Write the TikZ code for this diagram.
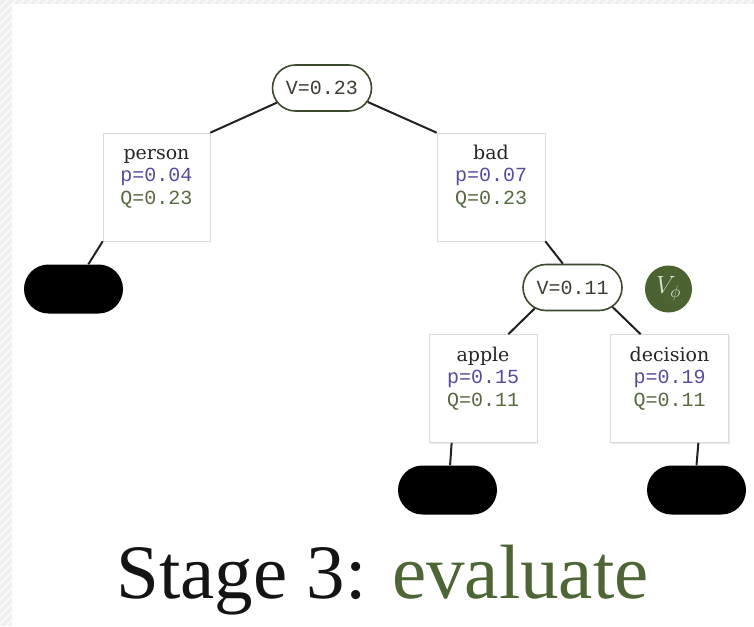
\documentclass[tikz,border=0pt]{standalone}
\usepackage{fontspec}
\usetikzlibrary{shapes.misc,shadows}
\newfontfamily\wordfont{DejaVu Serif}
\newfontfamily\valfont{Liberation Mono}
\newfontfamily\titlefont{Liberation Serif}

\definecolor{framegray}{HTML}{EEEEEE}
\definecolor{ovalline}{HTML}{3B4A2B}
\definecolor{vtext}{HTML}{3A3F33}
\definecolor{pcol}{HTML}{5A4A9E}
\definecolor{qcol}{HTML}{56693F}
\definecolor{phifill}{HTML}{4B6331}
\definecolor{phitext}{HTML}{DCE0D2}
\definecolor{titlegreen}{HTML}{4E6536}
\definecolor{edgecol}{HTML}{222222}
\definecolor{boxline}{HTML}{DADADA}

\tikzset{
  valnode/.style={rounded rectangle, draw=ovalline, line width=1.6pt, fill=white,
    minimum width=99pt, minimum height=46pt, inner sep=0pt,
    font=\valfont\fontsize{20}{20}\selectfont, text=vtext},
  leaf/.style={rounded rectangle, fill=black, minimum width=99pt,
    minimum height=49pt, inner sep=0pt},
  tokbox/.style={rectangle, draw=boxline, line width=0.6pt, fill=white,
    minimum height=108pt, inner sep=0pt,
    drop shadow={opacity=0.14, shadow xshift=1.2pt, shadow yshift=-1.2pt}},
  edge/.style={draw=edgecol, line width=2pt},
  wordline/.style={anchor=base, inner sep=0pt,
    font=\wordfont\fontsize{19}{19}\selectfont, text=black!85},
  pline/.style={anchor=base, inner sep=0pt,
    font=\valfont\fontsize{20}{20}\selectfont, text=pcol},
  qline/.style={anchor=base, inner sep=0pt,
    font=\valfont\fontsize{20}{20}\selectfont, text=qcol},
}

% three text lines inside a token box: word, prior p, value Q
\newcommand\tokenlines[4]{%
  \node[wordline] (#1-w) at ([yshift=-27pt]#1.north) {#2};
  \node[pline] (#1-p) at ([yshift=-49pt]#1.north) {p=#3};
  \node[qline] (#1-q) at ([yshift=-72pt]#1.north) {Q=#4};
}

\begin{document}
\begin{tikzpicture}[x=1pt,y=-1pt]
\useasboundingbox (0,0) rectangle (754,626);

% page frame: striped gray margin on the left and top
\fill[framegray] (0,0) rectangle (754,626);
\begin{scope}
  \clip (0,0) rectangle (754,626);
  \foreach \k in {0,8,...,1400} {
    \draw[white, line width=2pt, opacity=0.7] (\k-640,640) -- (\k,0);
  }
\end{scope}
\fill[white] (12,4) rectangle (754,626);

% tree nodes
\node[valnode] (root) at (322,88) {V=0.23};
\node[tokbox, minimum width=107pt] (person) at (156.5,187) {};
\node[tokbox, minimum width=108pt] (bad) at (491,187) {};
\node[leaf] (leafA) at (73.5,289) {};
\node[valnode] (vb) at (572.5,287.5) {V=0.11};
\node[circle, fill=phifill, minimum size=47pt, inner sep=0pt,
      text=phitext, font=\fontsize{24}{24}\selectfont] (vphi) at (668.5,289) {$V_\phi$};
\node[tokbox, minimum width=108pt] (apple) at (483,388.5) {};
\node[tokbox, minimum width=118pt] (decision) at (669.5,388.5) {};
\node[leaf] (leafB) at (447.5,490) {};
\node[leaf] (leafC) at (696.5,490) {};

\tokenlines{person}{person}{0.04}{0.23}
\tokenlines{bad}{bad}{0.07}{0.23}
\tokenlines{apple}{apple}{0.15}{0.11}
\tokenlines{decision}{decision}{0.19}{0.11}

% connectors
\draw[edge] (root.198) -- (person.north east);
\draw[edge] (root.343) -- (bad.north west);
\draw[edge] (person.south west) -- (leafA.59);
\draw[edge] (bad.south east) -- (vb.112);
\draw[edge] (vb.209) -- (apple.65);
\draw[edge] (vb.334) -- (decision.118);
\draw[edge] (apple.240) -- (leafB.84);
\draw[edge] (decision.298) -- (leafC.north);

% caption
\node[anchor=base, inner sep=0pt, font=\titlefont\fontsize{77}{77}\selectfont,
      text=black!92] (caption) at (382.5,598)
  {Stage 3: \textcolor{titlegreen}{evaluate}};
\end{tikzpicture}
\end{document}
